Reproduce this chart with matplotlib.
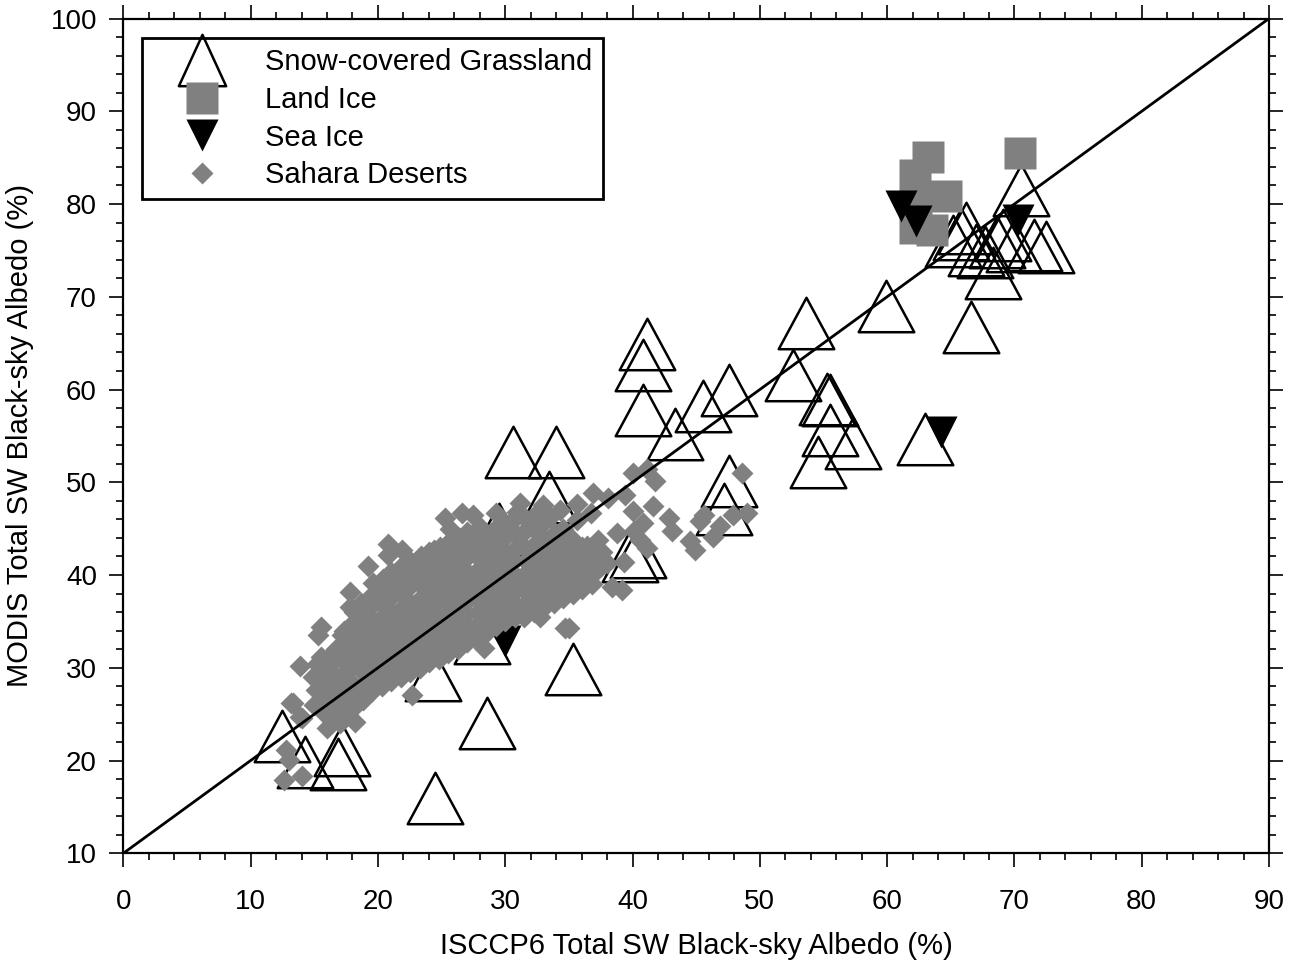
import matplotlib
matplotlib.use('Agg')
import matplotlib.pyplot as plt
from matplotlib.lines import Line2D
from matplotlib.path import Path
from matplotlib.ticker import MultipleLocator

plt.rcParams['font.family'] = ['Liberation Sans', 'DejaVu Sans']

# snow-covered grassland sites
snow_x = [12.5, 14.3, 17.2, 16.9, 24.5, 24.3, 28.6, 28.2, 35.3, 30.6, 34.0,
          33.4, 29.5, 39.8, 40.4, 41.1, 40.8, 40.8, 43.3, 45.5, 47.6, 47.6,
          47.2, 53.6, 52.6, 55.3, 55.5, 55.5, 57.3, 54.6, 59.9, 63.0, 66.6,
          70.5, 65.2, 65.8, 66.2, 67.0, 67.7, 68.3, 68.6, 69.1, 70.0, 71.5,
          72.5]
snow_y = [22.7, 19.8, 21.1, 19.6, 16.0, 29.2, 24.0, 33.2, 29.9, 53.3, 53.3,
          48.4, 45.0, 42.1, 42.5, 64.9, 62.6, 57.8, 55.2, 58.2, 59.9, 50.1,
          47.1, 67.2, 61.6, 59.0, 58.9, 55.6, 54.2, 52.2, 69.0, 54.7, 66.7,
          81.5, 76.0, 76.8, 77.4, 75.0, 74.8, 72.6, 75.9, 76.7, 75.5, 75.6,
          75.4]

# land ice
land_x = [70.4, 63.2, 62.2, 64.6, 62.2, 63.5, 62.3]
land_y = [85.5, 85.1, 83.1, 80.9, 77.4, 77.2, 80.0]

# sea ice
sea_x = [61.1, 62.3, 70.3, 64.2, 30.0, 34.1]
sea_y = [79.8, 78.2, 78.3, 55.4, 32.9, 38.9]

# Sahara desert sites
desert = [
    # scattered points
    (13.9, 30.2), (15.5, 34.4), (15.3, 33.5), (13.3, 26.2), (13.9, 24.7),
    (17.2, 33.5), (17.8, 38.2), (17.8, 36.6), (15.5, 31.2), (19.2, 41.0),
    (19.6, 39.1), (20.8, 43.4), (21.9, 42.7), (20.8, 42.2), (24.4, 42.7),
    (25.3, 46.1), (26.6, 46.7), (25.7, 45.0), (28.0, 45.2), (29.3, 46.7),
    (30.9, 46.8), (32.5, 46.7), (28.3, 32.1), (22.7, 27.1), (32.7, 35.5),
    (31.4, 35.9), (34.7, 34.3), (31.2, 47.8), (33.0, 47.5), (27.5, 46.5),
    (40.0, 51.0), (41.1, 51.4), (41.8, 50.1), (39.4, 48.6), (41.6, 47.4),
    (40.0, 46.9), (42.9, 46.2), (43.1, 44.7), (44.9, 42.7), (45.6, 46.5),
    (46.3, 44.1), (46.9, 45.3), (47.9, 46.5), (49.0, 46.7), (48.6, 51.0),
    (35.0, 34.3), (39.2, 38.4), (38.4, 38.7), (36.9, 48.8), (35.6, 47.7),
    (38.1, 48.3), (40.1, 44.7), (40.6, 43.8), (41.1, 42.9), (39.3, 41.4),
    (38.0, 41.3), (38.8, 44.5), (37.3, 43.8), (36.7, 46.7), (36.4, 43.1),
    (35.2, 40.5), (36.4, 39.8), (37.2, 40.5), (40.8, 45.6), (33.5, 46.3),
    (34.3, 47.0), (35.6, 45.9), (44.5, 43.7), (45.3, 45.8),
    (12.6, 17.9), (14.0, 18.3), (12.8, 21.1), (13.0, 20.1), (13.2, 26.2),
    (14.0, 24.6), (18.2, 24.2), (16.0, 23.5), (17.0, 24.0),
    # main cluster
    (15.0, 26.0), (15.1, 27.6), (14.9, 29.0), (15.2, 30.4),
    (15.8, 25.1), (15.9, 26.4), (15.7, 28.1), (15.8, 29.6), (16.0, 31.0),
    (16.5, 24.6), (16.6, 26.1), (16.4, 27.5), (16.6, 29.0), (16.5, 30.6), (16.7, 32.0),
    (17.3, 25.0), (17.2, 26.6), (17.4, 28.0), (17.3, 29.4), (17.2, 31.1), (17.4, 32.5), (17.3, 34.0),
    (18.0, 25.6), (18.1, 27.0), (17.9, 28.5), (18.0, 30.1), (18.1, 31.5), (18.0, 33.0), (17.9, 34.6), (18.1, 36.0),
    (18.8, 26.5), (18.7, 28.0), (18.9, 29.4), (18.8, 31.0), (18.7, 32.6), (18.9, 34.0), (18.8, 35.4), (18.7, 37.0),
    (19.5, 27.5), (19.6, 29.0), (19.4, 30.6), (19.5, 32.0), (19.6, 33.4), (19.5, 35.0), (19.4, 36.6), (19.6, 38.0),
    (20.3, 28.0), (20.2, 29.6), (20.4, 31.0), (20.3, 32.4), (20.2, 34.0), (20.4, 35.6), (20.3, 37.0), (20.2, 38.4), (20.4, 39.6),
    (21.0, 28.6), (21.1, 30.0), (20.9, 31.5), (21.0, 33.1), (21.1, 34.5), (21.0, 36.0), (20.9, 37.4), (21.1, 39.0), (21.0, 40.3),
    (21.8, 29.0), (21.7, 30.5), (21.9, 32.1), (21.8, 33.5), (21.7, 35.0), (21.9, 36.5), (21.8, 38.0), (21.7, 39.4), (21.9, 41.0),
    (22.5, 29.5), (22.6, 31.0), (22.4, 32.6), (22.5, 34.0), (22.6, 35.4), (22.5, 37.0), (22.4, 38.6), (22.6, 40.0), (22.5, 41.5),
    (23.3, 30.0), (23.2, 31.6), (23.4, 33.0), (23.3, 34.5), (23.2, 36.1), (23.4, 37.5), (23.3, 39.0), (23.2, 40.4), (23.4, 42.0),
    (24.0, 30.6), (24.1, 32.0), (23.9, 33.5), (24.0, 35.1), (24.1, 36.5), (24.0, 38.0), (23.9, 39.4), (24.1, 41.0), (24.0, 42.5),
    (24.8, 31.0), (24.7, 32.5), (24.9, 34.1), (24.8, 35.5), (24.7, 37.0), (24.9, 38.4), (24.8, 40.0), (24.7, 41.6), (24.9, 43.0),
    (25.5, 31.6), (25.6, 33.0), (25.4, 34.5), (25.5, 36.0), (25.6, 37.6), (25.5, 39.0), (25.4, 40.5), (25.6, 42.0), (25.5, 43.5),
    (26.3, 32.0), (26.2, 33.5), (26.4, 35.1), (26.3, 36.5), (26.2, 38.0), (26.4, 39.6), (26.3, 41.0), (26.2, 42.4), (26.4, 44.0),
    (27.0, 32.8), (27.1, 34.3), (26.9, 35.8), (27.0, 37.2), (27.1, 38.8), (27.0, 40.3), (26.9, 41.8), (27.1, 43.3), (27.0, 44.6),
    (27.8, 33.0), (27.7, 34.5), (27.9, 36.0), (27.8, 37.6), (27.7, 39.0), (27.9, 40.5), (27.8, 42.0), (27.7, 43.5), (27.9, 45.0),
    (28.5, 33.8), (28.6, 35.3), (28.4, 36.8), (28.5, 38.3), (28.6, 39.8), (28.5, 41.3), (28.4, 42.8), (28.6, 44.3),
    (29.3, 34.5), (29.2, 36.0), (29.4, 37.5), (29.3, 39.0), (29.2, 40.5), (29.4, 42.0), (29.3, 43.5), (29.2, 45.0),
    (30.0, 35.0), (30.1, 36.5), (29.9, 38.0), (30.0, 39.5), (30.1, 41.0), (30.0, 42.5), (29.9, 44.0), (30.1, 45.5),
    (30.8, 35.5), (30.7, 37.0), (30.9, 38.5), (30.8, 40.0), (30.7, 41.5), (30.9, 43.0), (30.8, 44.5), (30.7, 46.0),
    (31.5, 35.5), (31.6, 37.0), (31.4, 38.5), (31.5, 40.0), (31.6, 41.5), (31.5, 43.0), (31.4, 44.5), (31.6, 46.0),
    (32.3, 36.0), (32.2, 37.5), (32.4, 39.0), (32.3, 40.5), (32.2, 42.0), (32.4, 43.5), (32.3, 45.0),
    (33.0, 36.5), (33.1, 38.0), (32.9, 39.5), (33.0, 41.0), (33.1, 42.5), (33.0, 44.0), (32.9, 45.5),
    (33.8, 37.0), (33.7, 38.5), (33.9, 40.0), (33.8, 41.5), (33.7, 43.0), (33.9, 44.5),
    (34.5, 37.5), (34.6, 39.0), (34.4, 40.5), (34.5, 42.0), (34.6, 43.5), (34.5, 45.0),
    (35.3, 38.0), (35.2, 39.5), (35.4, 41.0), (35.3, 42.5), (35.2, 44.0),
    (36.0, 38.5), (36.1, 40.0), (35.9, 41.5), (36.0, 43.0),
    (36.8, 39.0), (36.7, 40.5), (36.9, 42.0),
    (37.5, 41.0), (37.6, 42.5),
]
desert_x = [p[0] for p in desert]
desert_y = [p[1] for p in desert]

# reference line corner to corner
line_x = [0, 90]
line_y = [10, 100]

gray = '#808080'
tri_up = Path([(-1.08, -1), (1.08, -1), (0, 1), (-1.08, -1)], closed=True)
tri_leg = Path([(-0.92, -1), (0.92, -1), (0, 1), (-0.92, -1)], closed=True)

fig = plt.figure(figsize=(12.94, 9.69), dpi=100)
ax = fig.add_axes([0.0953, 0.1194, 0.8854, 0.8615])

ax.plot(snow_x, snow_y, ls='none', marker=tri_up, ms=40, mfc='none',
        mec='k', mew=1.8, zorder=2)
ax.plot(land_x, land_y, ls='none', marker='s', ms=23, color=gray,
        mec='none', zorder=3)
ax.plot(sea_x, sea_y, ls='none', marker='v', ms=23, color='k',
        mec='none', zorder=4)
ax.plot(desert_x, desert_y, ls='none', marker='D', ms=11.5, color=gray,
        mec='none', zorder=5)
ax.plot(line_x, line_y, color='k', lw=2, zorder=6)

ax.set_xlim(0, 90)
ax.set_ylim(10, 100)
ax.xaxis.set_major_locator(MultipleLocator(10))
ax.xaxis.set_minor_locator(MultipleLocator(2))
ax.yaxis.set_major_locator(MultipleLocator(10))
ax.yaxis.set_minor_locator(MultipleLocator(2))
ax.tick_params(which='both', direction='out', top=True, right=True,
               labeltop=False, labelright=False, width=1.2, labelsize=20)
ax.tick_params(which='major', length=10)
ax.tick_params(which='minor', length=5)
ax.tick_params(axis='x', pad=16)
ax.tick_params(axis='y', pad=9)
for sp in ax.spines.values():
    sp.set_linewidth(1.6)

ax.set_xlabel('ISCCP6 Total SW Black-sky Albedo (%)', fontsize=21, labelpad=12)
ax.set_ylabel('MODIS Total SW Black-sky Albedo (%)', fontsize=21, labelpad=12)

handles = [
    Line2D([], [], ls='none', marker=tri_leg, ms=37, mfc='none', mec='k', mew=1.8),
    Line2D([], [], ls='none', marker='s', ms=23, color=gray, mec='none'),
    Line2D([], [], ls='none', marker='v', ms=23, color='k', mec='none'),
    Line2D([], [], ls='none', marker='D', ms=11.5, color=gray, mec='none'),
]
labels = ['Snow-covered Grassland', 'Land Ice', 'Sea Ice', 'Sahara Deserts']
leg = ax.legend(handles, labels, loc='upper left', bbox_to_anchor=(0.0163, 0.9766),
                borderaxespad=0, fontsize=21, fancybox=False, edgecolor='k',
                framealpha=1, handlelength=3.4, handletextpad=0.48,
                borderpad=0.35, labelspacing=0.33)
leg.get_frame().set_linewidth(2)
leg.set_zorder(10)

fig.savefig('out.png', dpi=100)
